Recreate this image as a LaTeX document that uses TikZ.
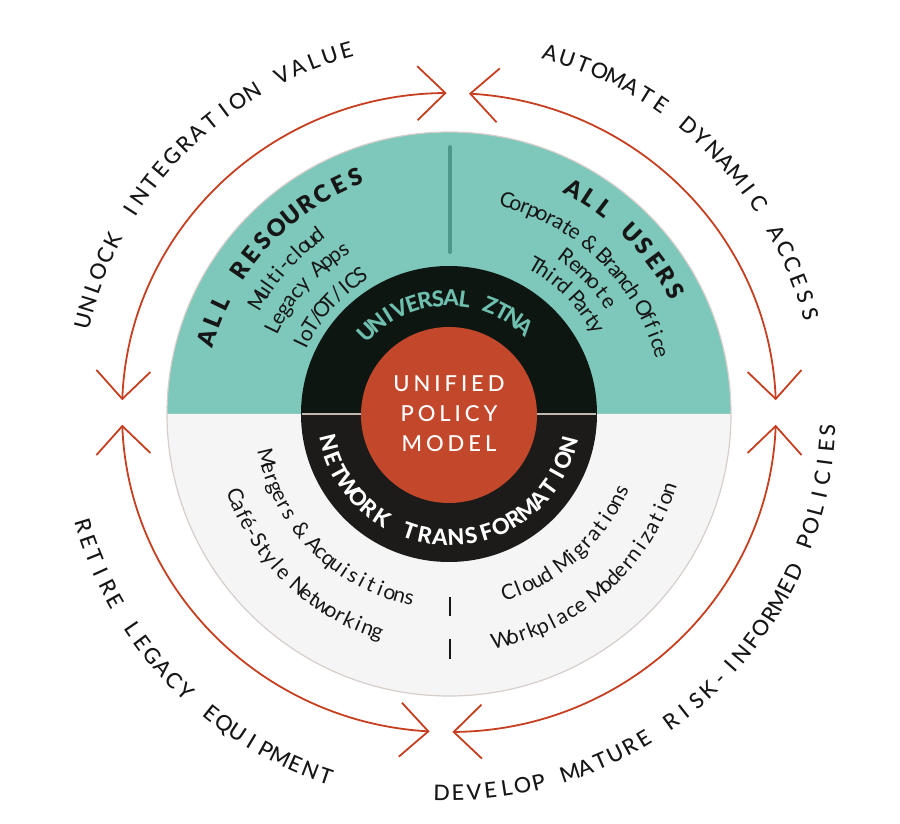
\documentclass[tikz,border=0pt]{standalone}
\usepackage{fontspec}
\usetikzlibrary{arrows.meta}
\newfontfamily\latoreg{Lato}
% medium weight (outer labels, core)
\IfFontExistsTF{Lato Medium}{\newfontfamily\fontmed{Lato Medium}}{%
 \IfFontExistsTF{Fira Sans Medium}{\newfontfamily\fontmed{Fira Sans Medium}}{%
  \IfFontExistsTF{Poppins Medium}{\newfontfamily\fontmed{Poppins Medium}}{%
   \newcommand\fontmed{\latoreg\bfseries}}}}
% black weight (headings)
\IfFontExistsTF{Lato Black}{\newfontfamily\fontblack{Lato Black}}{%
 \IfFontExistsTF{Poppins Black}{\newfontfamily\fontblack{Poppins Black}}{%
  \IfFontExistsTF{Fira Sans Black}{\newfontfamily\fontblack{Fira Sans Black}}{%
   \newcommand\fontblack{\latoreg\bfseries}}}}
% heavy weight (ring)
\IfFontExistsTF{Lato Heavy}{\newfontfamily\fontheavy{Lato Heavy}}{%
 \IfFontExistsTF{Lato Black}{\newfontfamily\fontheavy{Lato Black}}{%
  \IfFontExistsTF{Fira Sans Heavy}{\newfontfamily\fontheavy{Fira Sans Heavy}}{%
   \newcommand\fontheavy{\latoreg\bfseries}}}}

\definecolor{teal1}{HTML}{7DC8BA}
\definecolor{tealdark}{HTML}{4F9788}
\definecolor{tealtext}{HTML}{6FBFAE}
\definecolor{ringtop}{HTML}{0E1612}
\definecolor{ringbot}{HTML}{1D1B19}
\definecolor{ringline}{HTML}{BFB8B3}
\definecolor{core}{HTML}{C3482B}
\definecolor{arcred}{HTML}{C63F20}
\definecolor{lowgray}{HTML}{F5F5F5}
\definecolor{rimgray}{HTML}{D6CECA}
\definecolor{ink}{HTML}{161616}

\newcommand\fOuter{\fontmed\fontsize{21.5}{25}\selectfont}
\newcommand\fHead{\fontblack\fontsize{23.5}{28}\selectfont}
\newcommand\fBody{\latoreg\fontsize{21}{25}\selectfont}
\newcommand\fRing{\fontheavy\fontsize{22}{26}\selectfont}
\newcommand\fCore{\fontmed\fontsize{22}{26}\selectfont\addfontfeatures{LetterSpace=18}}

\newcommand\ArcPut[6]{%
  \node[inner sep=0pt, outer sep=0pt, anchor=base, rotate=#4, #1] (#5) at (#2:#3) {#6};}

\ExplSyntaxOn
\dim_new:N \l__arc_cum_dim
\int_new:N \l__arc_n_int
\int_new:N \l__arc_k_int
\box_new:N \l__arc_box
\fp_new:N \l__arc_t_fp
\fp_new:N \l__arc_s_fp
\fp_new:N \l__arc_a_fp
\fp_new:N \l__arc_first_fp
\fp_new:N \l__arc_last_fp
\int_new:N \g__arc_id_int
\tl_new:N \l__arc_ang_tl
\tl_new:N \l__arc_rot_tl
\tl_new:N \l__arc_name_tl
\tl_new:N \l__arc_prefix_tl
\seq_new:N \l__arc_pos_seq
% #1 node options, #2 font, #3 first-letter angle, #4 last-letter angle,
% #5 baseline radius, #6 dir (1 = clockwise, tops out; -1 = ccw, tops in), #7 text
\cs_new_protected:Npn \ArcFit #1#2#3#4#5#6#7
 {
  \tl_clear:N \l__arc_prefix_tl
  \seq_clear:N \l__arc_pos_seq
  \int_zero:N \l__arc_n_int
  \str_map_inline:nn {#7}
   {
    \int_incr:N \l__arc_n_int
    \tl_put_right:Nn \l__arc_prefix_tl {##1}
    \hbox_set:Nn \l__arc_box { #2 \l__arc_prefix_tl }
    \dim_set:Nn \l__arc_cum_dim { \box_wd:N \l__arc_box }
    \hbox_set:Nn \l__arc_box { #2 ##1 }
    \seq_put_right:Nx \l__arc_pos_seq
      { \dim_to_fp:n { \l__arc_cum_dim - 0.5\box_wd:N \l__arc_box } }
   }
  \fp_set:Nn \l__arc_first_fp { \seq_item:Nn \l__arc_pos_seq {1} }
  \fp_set:Nn \l__arc_last_fp { \seq_item:Nn \l__arc_pos_seq {\l__arc_n_int} }
  \fp_set:Nn \l__arc_t_fp
   {
    ( abs( (#4) - (#3) ) * pi / 180 * (#5)
      - ( \l__arc_last_fp - \l__arc_first_fp ) )
    / ( \l__arc_n_int - 1 )
   }
  \int_zero:N \l__arc_k_int
  \str_map_inline:nn {#7}
   {
    \int_incr:N \l__arc_k_int
    \fp_set:Nn \l__arc_s_fp
     { \seq_item:Nn \l__arc_pos_seq {\l__arc_k_int} - \l__arc_first_fp
       + ( \l__arc_k_int - 1 ) * \l__arc_t_fp }
    \fp_set:Nn \l__arc_a_fp { (#3) - (#6) * \l__arc_s_fp / (#5) * 180 / pi }
    \tl_if_blank:nF {##1}
     {
      \int_gincr:N \g__arc_id_int
      \tl_set:Nx \l__arc_ang_tl { \fp_eval:n { round( \l__arc_a_fp , 3) } }
      \tl_set:Nx \l__arc_rot_tl { \fp_eval:n { round( \l__arc_a_fp - (#6) * 90 , 3) } }
      \tl_set:Nx \l__arc_name_tl { arcch \int_use:N \g__arc_id_int }
      \ArcPut {#1} {\l__arc_ang_tl} {#5} {\l__arc_rot_tl} {\l__arc_name_tl} { #2 ##1 }
     }
   }
 }
\ExplSyntaxOff

\tikzset{
  >={Straight Barb[length=28pt,width=54pt]},
  cyclearc/.style={draw=arcred, line width=1.8pt, <->},
  coretext/.style={text=white, anchor=base, inner sep=0pt, font=\fCore},
}

\begin{document}
\begin{tikzpicture}[x=1pt,y=1pt]
\path[use as bounding box] (-449,-410) rectangle (451,414);

% outer disc
\fill[teal1] (-282,0) arc[start angle=180,end angle=0,radius=282] -- cycle;
\fill[lowgray] (282,0) arc[start angle=0,end angle=-180,radius=282] -- cycle;
\draw[rimgray, line width=1.2pt] (0,0) circle[radius=282];
\draw[tealdark, line width=4pt, line cap=round] (1,267) -- (1,162);

% ring
\fill[ringtop] (-148,0) arc[start angle=180,end angle=0,radius=148] -- cycle;
\fill[ringbot] (148,0) arc[start angle=0,end angle=-180,radius=148] -- cycle;
\draw[ringline, line width=2pt] (-147,0) -- (-87,0) (87,0) -- (147,0);
\fill[core] (0,-1) circle[radius=88];

% ticks
\draw[ink, line width=1.4pt] (1,-183) -- (1,-202) (1,-225) -- (1,-245);

% cycle arrows
\begin{scope}[shift={(0,1.5)}]
\draw[cyclearc] (177.8:327 and 319.5) arc[start angle=177.8,end angle=90.4,x radius=327,y radius=319.5];
\draw[cyclearc] (86.5:327 and 319.5) arc[start angle=86.5,end angle=2.2,x radius=327,y radius=319.5];
\draw[cyclearc] (182.2:327 and 319.5) arc[start angle=182.2,end angle=266.6,x radius=327,y radius=319.5];
\draw[cyclearc] (270.6:327 and 319.5) arc[start angle=270.6,end angle=357.8,x radius=327,y radius=319.5];
\end{scope}

% outer labels
\ArcFit{text=ink}{\fOuter}{165.7}{105.8}{370}{1}{UNLOCK INTEGRATION VALUE}
\ArcFit{text=ink}{\fOuter}{74.3}{15.5}{367}{1}{AUTOMATE DYNAMIC ACCESS}
\ArcFit{text=ink}{\fOuter}{197}{251.2}{390}{-1}{RETIRE LEGACY EQUIPMENT}
\ArcFit{text=ink}{\fOuter}{268.9}{357.6}{386.5}{-1}{DEVELOP MATURE RISK-INFORMED POLICIES}

% teal headings
\ArcFit{text=ink}{\fHead}{162.6}{111.5}{245.5}{1}{ALL RESOURCES}
\ArcFit{text=ink}{\fHead}{61}{28.5}{249}{1}{ALL USERS}

% teal body
\ArcFit{text=ink}{\fBody}{149.3}{126.5}{215}{1}{Multi-cloud}
\ArcFit{text=ink}{\fBody}{154}{122.7}{189}{1}{Legacy Apps}
\ArcFit{text=ink}{\fBody}{154.5}{122.7}{157}{1}{IoT/OT/ICS}
\ArcFit{text=ink}{\fBody}{74.8}{16.3}{214}{1}{Corporate & Branch Office}
\ArcFit{text=ink}{\fBody}{53.4}{34.9}{189}{1}{Remote}
\ArcFit{text=ink}{\fBody}{59.7}{30.4}{165}{1}{Third Party}

% ring labels
\ArcFit{text=tealtext}{\fRing}{135}{49.3}{108}{1}{UNIVERSAL ZTNA}
\ArcFit{text=white}{\fRing}{193.7}{345.4}{131.5}{-1}{NETWORK TRANSFORMATION}

% lower body
\ArcFit{text=ink}{\fBody}{193.6}{257.8}{195}{-1}{Mergers & Acquisitions}
\ArcFit{text=ink}{\fBody}{200.9}{251.8}{236}{-1}{Café-Style Networking}
\ArcFit{text=ink}{\fBody}{288.4}{336}{195}{-1}{Cloud Migrations}
\ArcFit{text=ink}{\fBody}{283.2}{341.3}{239}{-1}{Workplace Modernization}

% core
\node[coretext] (coreA) at (0,22.3) {UNIFIED};
\node[coretext] (coreB) at (0,-7.7) {POLICY};
\node[coretext] (coreC) at (0,-37.7) {MODEL};
\end{tikzpicture}
\end{document}
